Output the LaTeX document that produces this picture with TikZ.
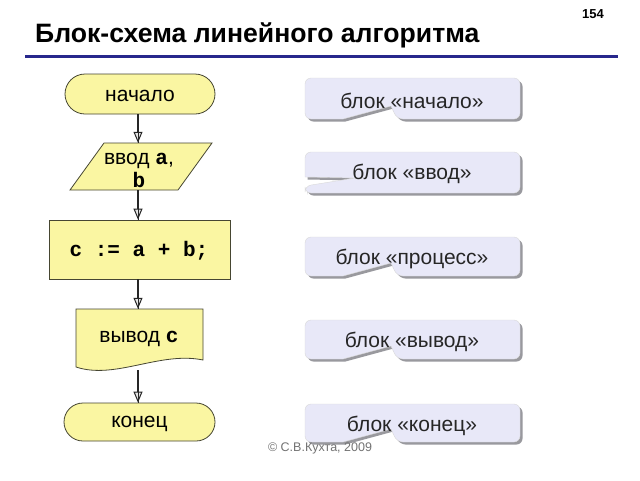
\documentclass[tikz,border=0pt]{standalone}
\usepackage{fontspec}
\setmainfont{Liberation Sans}
\newfontfamily\monofont{Liberation Mono}
\usetikzlibrary{arrows.meta,shapes.misc}

\definecolor{boxfill}{RGB}{250,246,162}
\definecolor{boxline}{RGB}{70,70,50}
\definecolor{callfill}{RGB}{232,232,248}
\definecolor{titleline}{RGB}{40,40,140}
\definecolor{shadowc}{RGB}{70,70,80}

\newcommand\callpathA[2]{[rounded corners=6pt] (343,#2) -- (305,#2) -- (305,#1) -- (520,#1) -- (520,#2) -- (397,#2) [sharp corners] -- (391,#2-13) -- cycle}
\newcommand\callpathB[2]{[rounded corners=6pt] (305,177) -- (305,#1) -- (520,#1) -- (520,#2) -- (305,#2) -- (305,186) [sharp corners] -- (355,178) -- cycle}

\begin{document}
\begin{tikzpicture}[x=1pt,y=-1pt,
  fc/.style={fill=boxfill, draw=boxline, line width=0.8pt},
  term/.style={fc, rounded rectangle, inner sep=0pt, font=\fontsize{21}{24}\selectfont},
  lbl/.style={inner sep=0pt, font=\fontsize{21}{24}\selectfont, align=center},
  flowarrow/.style={draw=black!85, line width=1.3pt, -{Triangle[open,length=11pt,width=9pt,line width=1pt,fill=black!10]},
    postaction={draw=black!85, line width=1pt, arrows=-}},
  calltext/.style={inner sep=0pt, text=black!85, font=\fontsize{21}{24}\selectfont},
  callshadow/.style={fill=shadowc, opacity=0.55},
  callbody/.style={fill=callfill, draw=black!15, line width=0.4pt},
  mono/.style={font=\monofont\bfseries\fontsize{21}{24}\selectfont}
]
\useasboundingbox (0,0) rectangle (640,480);
\fill[white] (0,0) rectangle (640,480);

% title
\node[anchor=base west, inner sep=0pt, font=\bfseries\fontsize{26.6}{30}\selectfont] (title) at (35,42) {Блок-схема линейного алгоритма};
\node[anchor=base east, inner sep=0pt, font=\bfseries\fontsize{13}{15}\selectfont] (pagenum) at (604,18) {154};
\draw[titleline, line width=3pt] (25,56) coordinate (tl1) -- (618,56) coordinate (tl2);

% flowchart
\node[term, minimum width=150pt, minimum height=40pt] (start) at (140,94) {};
\node[lbl] (starttext) at (140,96) {начало};

\node[lbl, minimum width=108pt, minimum height=47pt] (in) at (141,166.5) {};
\fill[boxfill] (104,143) -- (212,143) -- (178,190) -- (70,190) -- cycle;
\draw[boxline, line width=0.8pt] (104,143) -- (212,143) -- (178,190) -- (70,190) -- cycle;
\node[lbl, anchor=base] (intext1) at (139,164) {ввод {\monofont\bfseries a},};
\node[lbl, anchor=base] (intext2) at (139,187) {\monofont\bfseries b};

\node[fc, rectangle, minimum width=181pt, minimum height=59pt, inner sep=0pt] (proc) at (139.5,249.5) {};
\node[mono, inner sep=0pt] (proctext) at (139,251) {c := a + b;};

\node[lbl, minimum width=127pt, minimum height=60pt] (out) at (139.5,339) {};
\draw[fc] (76,309) -- (203,309) -- (203,360) .. controls (160,351) and (115,380) .. (76,367) -- cycle;
\node[lbl] (outtext) at (139,339) {вывод {\monofont\bfseries c}};
\coordinate (outb) at (138,370);

\node[term, minimum width=151pt, minimum height=38pt] (end) at (139.5,422) {};
\node[lbl] (endtext) at (139.5,424) {конец};

\draw[flowarrow] (start.south -| 138,0) -- (in.north -| 138,0);
\draw[flowarrow] (in.south -| 138,0) -- (proc.north -| 138,0);
\draw[flowarrow] (proc.south -| 138,0) -- (out.north -| 138,0);
\draw[flowarrow] (outb) -- (end.north -| 138,0);

% callouts
\begin{scope}[shift={(2.5,2.5)}]
  \fill[callshadow] \callpathA{78}{119};
  \fill[callshadow] \callpathB{152}{193};
  \fill[callshadow] \callpathA{237}{276};
  \fill[callshadow] \callpathA{320}{359};
  \fill[callshadow] \callpathA{404}{442};
\end{scope}
\path[callbody] \callpathA{78}{119};
\path[callbody] \callpathB{152}{193};
\path[callbody] \callpathA{237}{276};
\path[callbody] \callpathA{320}{359};
\path[callbody] \callpathA{404}{442};

\node[calltext] (c1) at (412,101) {блок «начало»};
\node[calltext] (c2) at (412,174) {блок «ввод»};
\node[calltext] (c3) at (412,259) {блок «процесс»};
\node[calltext] (c4) at (412,342) {блок «вывод»};
\node[calltext] (c5) at (412,426) {блок «конец»};

\node[inner sep=0pt, text=black!55, font=\fontsize{12.5}{14}\selectfont] (copy) at (320,448) {© С.В.Кухта, 2009};
\end{tikzpicture}
\end{document}
